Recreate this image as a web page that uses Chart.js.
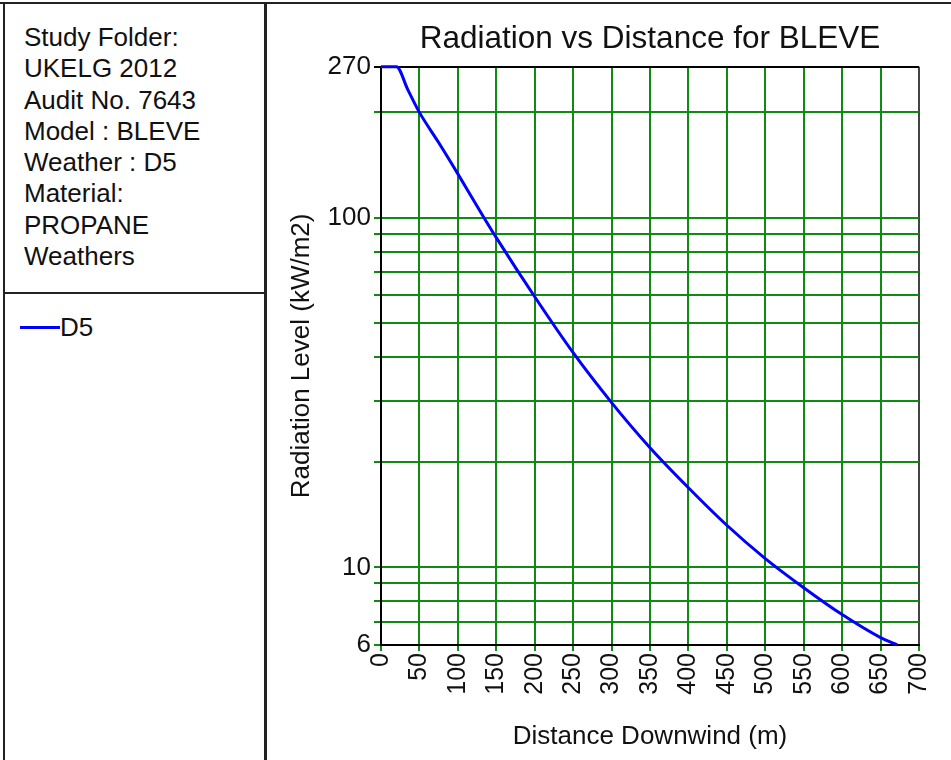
<!DOCTYPE html>
<html>
<head>
<meta charset="utf-8">
<title>Radiation vs Distance for BLEVE</title>
<script src="https://cdn.jsdelivr.net/npm/chart.js@4.4.1/dist/chart.umd.min.js"></script>
<style>
  html, body { margin: 0; padding: 0; background: #fff; }
  body {
    width: 951px; height: 760px; position: relative; overflow: hidden;
    font-family: "Liberation Sans", Arial, sans-serif; color: #111;
  }
  .rule { position: absolute; background: #222; }
  #info {
    position: absolute; left: 24px; top: 22px;
    font-size: 26px; line-height: 31.3px; white-space: nowrap;
  }
  #legend {
    position: absolute; left: 20px; top: 312px;
    display: flex; align-items: center;
    font-size: 26px; line-height: 31px;
  }
  #legend .swatch { width: 40px; height: 3px; background: #0000ff; }
  #plot { position: absolute; left: 268px; top: 0; }
</style>
</head>
<body>
  <!-- frame of the report page -->
  <div class="rule" style="left:0; top:2px; width:951px; height:2px;"></div>
  <div class="rule" style="left:3px; top:2px; width:2px; height:758px;"></div>
  <div class="rule" style="left:264px; top:2px; width:3px; height:758px;"></div>
  <div class="rule" style="left:3px; top:292px; width:263px; height:2px;"></div>

  <div id="info">
    Study Folder:<br>
    UKELG 2012<br>
    Audit No. 7643<br>
    Model : BLEVE<br>
    Weather : D5<br>
    Material:<br>
    PROPANE<br>
    Weathers
  </div>
  <div id="legend"><span class="swatch"></span><span>D5</span></div>

  <canvas id="plot" width="683" height="760"></canvas>

<script>
// distance downwind (m) and radiation level (kW/m2), weather D5
const distance = [0, 20, 35, 50, 75, 100, 134, 150, 200, 250, 300, 350, 400, 450, 500, 550, 600, 650, 672];
const radiationD5 = [270, 270, 232, 200, 164, 133.4, 100, 87.7, 59.4, 41.1, 29.6, 22.0, 16.9, 13.2, 10.6, 8.75, 7.33, 6.3, 6.0];

const xTickValues = [0, 50, 100, 150, 200, 250, 300, 350, 400, 450, 500, 550, 600, 650, 700];
const yGridValues = [6, 7, 8, 9, 10, 20, 30, 40, 50, 60, 70, 80, 90, 100, 200, 270];
const yLabelValues = [6, 10, 100, 270];

const FONT = '"Liberation Sans", Arial, sans-serif';
const GREEN = '#118a11';
const INK = '#111';

Chart.defaults.font.family = FONT;

new Chart(document.getElementById('plot'), {
  type: 'line',
  data: {
    datasets: [{
      label: 'D5',
      data: distance.map((d, i) => ({ x: d, y: radiationD5[i] })),
      borderColor: '#0000ff',
      borderWidth: 3,
      pointRadius: 0,
      cubicInterpolationMode: 'monotone',
      fill: false,
      clip: 5
    }]
  },
  options: {
    responsive: false,
    animation: false,
    layout: { padding: { left: 0, right: 19, top: 0, bottom: 0 } },
    plugins: {
      legend: { display: false },
      tooltip: { enabled: false },
      title: {
        display: true,
        text: 'Radiation vs Distance for BLEVE',
        fullSize: false,
        color: INK,
        font: { size: 31.5, weight: 'normal' },
        padding: { top: 20, bottom: 9 }
      }
    },
    scales: {
      x: {
        type: 'linear',
        min: 0,
        max: 700,
        afterBuildTicks: (s) => { s.ticks = xTickValues.map(v => ({ value: v })); },
        afterFit: (s) => { s.height = 115; },
        grid: {
          lineWidth: 2,
          tickLength: 6,
          tickColor: GREEN,
          color: (ctx) => {
            const v = ctx.tick ? ctx.tick.value : null;
            if (v === 0) return '#000';
            if (v === 700) return '#444';
            return GREEN;
          }
        },
        border: { color: '#000', width: 2 },
        ticks: {
          autoSkip: false,
          minRotation: 90,
          maxRotation: 90,
          padding: 2,
          color: INK,
          font: { size: 25 }
        },
        title: {
          display: true,
          text: 'Distance Downwind (m)',
          color: INK,
          font: { size: 26 },
          padding: { top: 0, bottom: 8 }
        }
      },
      y: {
        type: 'logarithmic',
        min: 6,
        max: 270,
        afterBuildTicks: (s) => { s.ticks = yGridValues.map(v => ({ value: v })); },
        afterFit: (s) => { s.width = 113; },
        grid: {
          lineWidth: 2,
          tickLength: 7,
          color: (ctx) => {
            const v = ctx.tick ? ctx.tick.value : null;
            if (v === 270 || v === 6) return '#000';
            return GREEN;
          },
          tickColor: (ctx) => (ctx.tick && ctx.tick.value === 270) ? '#000' : GREEN
        },
        border: { color: '#000', width: 2 },
        ticks: {
          autoSkip: false,
          padding: 3,
          color: INK,
          font: { size: 26 },
          callback: (v) => yLabelValues.includes(v) ? String(v) : ''
        },
        title: {
          display: true,
          text: 'Radiation Level (kW/m2)',
          color: INK,
          font: { size: 26 },
          padding: { top: 18, bottom: 0 }
        }
      }
    }
  }
});
</script>
</body>
</html>
